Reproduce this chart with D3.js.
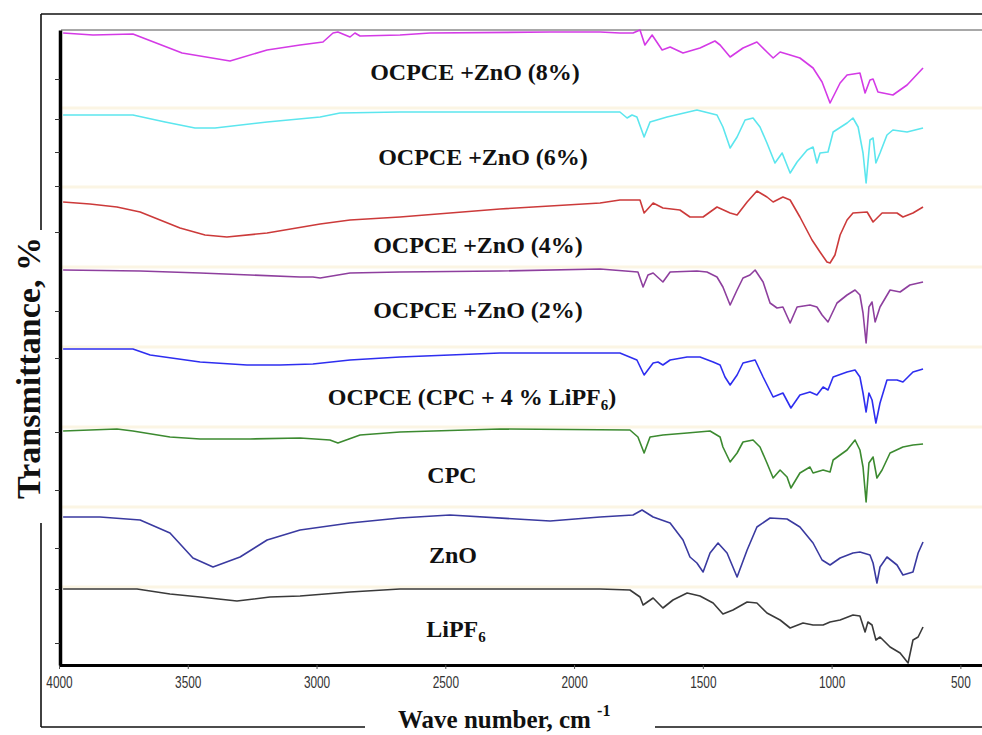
<!DOCTYPE html>
<html><head><meta charset="utf-8">
<script src="https://cdn.jsdelivr.net/npm/d3@7"></script>
<style>
html,body{margin:0;padding:0;background:#fff;}
svg{display:block;}
</style></head>
<body>
<svg id="chart" width="982" height="735"></svg>
<script>
// ---------- data ----------
const wavenumberTicks = [4000, 3500, 3000, 2500, 2000, 1500, 1000, 500];
const transmittanceTicks = [117.2, 109.2, 102.6, 95.8, 86.6, 70.8, 61.4, 46.6, 35, 23.4, 15.2, 4.4];
const separatorLevels = [111.4, 95.6, 79.6, 63.6, 47.6, 31.6, 15.6];

const seriesNames = ["OCPCE +ZnO (8%)", "OCPCE +ZnO (6%)", "OCPCE +ZnO (4%)", "OCPCE +ZnO (2%)",
  "OCPCE (CPC + 4 % LiPF6)", "CPC", "ZnO", "LiPF6"];
const seriesColors = ["#d43ae6", "#5ce6ee", "#cc3a3a", "#8e3f9e", "#2e2ef0", "#3c8a30", "#3a3aa0", "#3a3a3a"];

const ocpceZnO8 = [[3984,126.4],[3868,126],[3713,126.2],[3522,122.4],[3336,120.8],[3192,123],[3064,124],[2975,124.6],
  [2936,126.4],[2917,126.6],[2870,125.6],[2851,126.4],[2831,125.8],[2676,126],[2559,126.4],[2093,126.6],[1899,126.6],
  [1822,126.4],[1771,126.4],[1744,127],[1725,124],[1697,126],[1658,123],[1627,123.6],[1577,122.4],[1511,123.4],
  [1453,124.8],[1433,124],[1394,121.6],[1344,123.4],[1290,124.6],[1251,122.6],[1227,121.4],[1200,122.6],[1161,122],
  [1123,121.4],[1072,119.4],[1037,116.6],[1006,112.4],[967,116.4],[940,118],[890,118.4],[870,114.4],[851,117],
  [839,117.2],[820,114.6],[762,114],[707,116],[645,119.4]];

const ocpceZnO6 = [[3984,110],[3713,110],[3588,108.6],[3472,107.4],[3394,107.4],[3192,108.6],[2986,109.6],[2909,110.4],
  [2676,110.6],[1899,110.6],[1822,110.6],[1794,109.4],[1775,110],[1756,109.6],[1728,105.6],[1705,108.6],[1639,109.6],
  [1523,111],[1445,110],[1422,107.6],[1394,103.4],[1367,105.6],[1336,109],[1305,109.4],[1278,107.6],[1251,104.4],
  [1220,100.4],[1192,102.4],[1161,98.4],[1134,100.6],[1095,103],[1072,103.6],[1057,100.4],[1045,102.4],[1014,102.6],
  [994,106.6],[940,108.4],[917,109.4],[897,107.6],[878,102.4],[866,96.4],[851,105],[839,105.4],[828,100.4],[812,102.4],
  [785,106],[762,107],[707,106.6],[645,107.4]];

const ocpceZnO4 = [[3984,92.6],[3880,92.2],[3775,91.6],[3685,90.6],[3530,87.4],[3433,86],[3348,85.6],[3192,86.4],
  [2986,88.2],[2870,89],[2676,89.6],[2288,91.2],[1899,92.4],[1822,93],[1744,93],[1728,90.4],[1693,92.4],[1655,91.4],
  [1589,91],[1550,89.6],[1499,89.6],[1445,91.6],[1394,90.4],[1367,90],[1328,92.6],[1290,94.8],[1251,93.6],[1227,92.6],
  [1189,93.6],[1161,93],[1123,89.6],[1076,85],[1045,82.6],[1018,80.6],[1006,80.4],[987,82],[967,86],[940,89],
  [917,90.4],[862,90.6],[839,88.6],[804,90.4],[746,90.4],[723,89.6],[684,90.4],[645,91.6]];

const ocpceZnO2 = [[3984,79],[3685,78.8],[3452,78.4],[3258,78],[3064,77.6],[3014,77.6],[2986,77.4],[2870,78.4],
  [2676,78.6],[2288,78.8],[1899,79.2],[1752,78.6],[1732,75.6],[1713,78],[1693,78.4],[1655,76.6],[1627,78.6],[1523,78.8],
  [1484,78.6],[1445,77.6],[1422,75.6],[1394,72],[1367,75],[1344,77.4],[1317,78],[1297,79],[1266,76.6],[1239,72.4],
  [1212,71.4],[1189,71.6],[1161,68.4],[1134,71.6],[1084,72],[1057,71.6],[1037,70],[1014,68.6],[979,72.4],[940,74],
  [909,75],[890,74],[878,70.4],[866,64.4],[855,71.6],[843,72.6],[831,68.6],[812,71.6],[773,75],[734,74.6],[696,76],
  [645,76.6]];

const ocpce = [[3984,63.2],[3713,63.2],[3646,62],[3452,60.6],[3270,60],[3142,60],[3014,60.2],[2870,61],[2676,61.6],
  [2482,62],[2288,62.4],[1822,62.4],[1756,61],[1728,58],[1693,60.4],[1674,60.6],[1655,60],[1627,61],[1561,61.6],
  [1511,61.6],[1460,60.6],[1433,60],[1414,57.6],[1394,56],[1367,58],[1344,60.4],[1297,61],[1266,57.6],[1227,53.6],
  [1189,54.4],[1158,51.4],[1123,54],[1084,54.6],[1057,54],[1033,55.6],[1014,55],[994,57.6],[940,58.6],[909,59],
  [890,57.6],[878,54.4],[866,50.6],[855,54.4],[843,53],[828,48.4],[812,52.4],[785,57],[746,57],[723,56.6],[684,58.6],
  [645,59.2]];

const cpc = [[3984,46.8],[3775,47.2],[3713,46.8],[3569,45.6],[3452,45.2],[3258,45.2],[3064,45.4],[2948,45],[2917,44.4],
  [2831,46],[2676,46.6],[2288,47.2],[1783,47],[1752,45.6],[1728,42.4],[1705,45.6],[1655,46],[1561,46.4],[1472,46.8],
  [1433,45.6],[1422,43.6],[1394,40.6],[1367,42.4],[1344,44.6],[1305,45],[1278,43.6],[1251,40.4],[1227,37.4],[1200,39],
  [1173,37.6],[1158,35.4],[1123,38.4],[1084,39.6],[1072,38.4],[1033,39],[1006,38.6],[994,41],[940,43],[909,45],
  [890,43],[878,39.6],[866,32.6],[855,40.4],[839,41.6],[824,37.4],[804,39],[773,42.4],[723,43.6],[684,44],[645,44.2]];

const zno = [[3984,29.6],[3841,29.6],[3685,29],[3569,26.4],[3480,21.4],[3402,19.6],[3297,21.6],[3192,25],[3064,27],
  [2870,28.4],[2676,29.4],[2482,30],[2093,28.8],[1899,29.6],[1771,30],[1736,31],[1693,29.6],[1627,28.4],[1577,25],
  [1550,21.6],[1523,20.4],[1499,18.6],[1472,22.4],[1441,24.4],[1406,22.4],[1367,17.6],[1328,23],[1290,27.6],
  [1239,29.4],[1173,29.2],[1123,27.6],[1072,24.4],[1037,21],[1006,20],[967,21.4],[917,22.4],[890,22.6],[851,22],
  [839,20.4],[824,16.4],[812,19.6],[785,21.6],[746,20],[723,18],[684,18.6],[664,22.4],[645,24.6]];

const lipf6 = [[3984,15.2],[3697,15.2],[3569,14.2],[3452,13.6],[3309,12.8],[3181,13.6],[3064,13.8],[2870,14.6],
  [2676,15.2],[1899,15.2],[1783,15],[1744,13.6],[1732,12],[1693,13.4],[1655,11.4],[1616,13],[1561,14.4],[1511,13.8],
  [1460,12.4],[1422,10.2],[1383,11],[1328,12.6],[1290,12.4],[1251,10.4],[1200,9],[1161,7.4],[1111,8.4],[1072,8],
  [1033,8],[1006,8.6],[967,9],[917,10],[890,9.8],[870,6.6],[859,8.6],[843,8],[828,5],[812,5.6],[773,3.6],[734,2.4],
  [703,0.4],[684,5],[664,5.6],[645,7.6]];

const seriesData = [ocpceZnO8, ocpceZnO6, ocpceZnO4, ocpceZnO2, ocpce, cpc, zno, lipf6];

// ---------- layout ----------
const svg = d3.select("#chart");
const x = d3.scaleLinear().domain([4000, 416]).range([59, 982]);
const y = d3.scaleLinear().domain([0, 127]).range([665, 30]);
const serif = "'Liberation Serif','Times New Roman',serif";

// outer frame
const frame = svg.append("g").attr("stroke", "#111").attr("stroke-width", 1.6).attr("fill", "none");
frame.append("line").attr("x1", 41).attr("x2", 982).attr("y1", 14).attr("y2", 14);
frame.append("line").attr("x1", 41).attr("x2", 41).attr("y1", 14).attr("y2", 230);
frame.append("line").attr("x1", 41).attr("x2", 41).attr("y1", 523).attr("y2", 727);
frame.append("line").attr("x1", 41).attr("x2", 365).attr("y1", 727).attr("y2", 727);
frame.append("line").attr("x1", 655).attr("x2", 982).attr("y1", 727).attr("y2", 727);

// separators
svg.append("g").selectAll("line").data(separatorLevels).join("line")
  .attr("x1", 62).attr("x2", 982)
  .attr("y1", d => y(d)).attr("y2", d => y(d))
  .attr("stroke", "#fbf5e4").attr("stroke-width", 3);

// top grey border of plot
svg.append("line").attr("x1", 61).attr("x2", 982).attr("y1", 30).attr("y2", 30)
  .attr("stroke", "#a8a8a8").attr("stroke-width", 2);

// lines
const line = d3.line().x(d => x(d[0])).y(d => y(d[1])).curve(d3.curveLinear);
svg.append("g").selectAll("path").data(seriesData).join("path")
  .attr("d", line)
  .attr("fill", "none")
  .attr("stroke", (d, i) => seriesColors[i])
  .attr("stroke-width", 1.6)
  .attr("stroke-linejoin", "round");

// axes
const xAxis = svg.append("g").attr("transform", "translate(0,665)")
  .call(d3.axisBottom(x).tickValues(wavenumberTicks).tickSize(4).tickSizeOuter(0).tickFormat(d3.format("d")));
xAxis.select(".domain").attr("stroke", "#000").attr("stroke-width", 3);
xAxis.selectAll(".tick line").attr("stroke", "#555").attr("stroke-width", 1);
xAxis.selectAll(".tick text")
  .attr("y", 0).attr("dy", 0).attr("x", 0)
  .attr("transform", "translate(0,23) scale(0.74,1)")
  .attr("font-family", "'Liberation Sans',Arial,sans-serif")
  .attr("font-size", 16).attr("fill", "#333");

const yAxis = svg.append("g").attr("transform", "translate(60,0)")
  .call(d3.axisLeft(y).tickValues(transmittanceTicks).tickSize(5).tickSizeOuter(0).tickFormat(""));
yAxis.select(".domain").attr("stroke", "#000").attr("stroke-width", 3.5);
yAxis.selectAll(".tick line").attr("stroke", "#333").attr("stroke-width", 1);

// series labels
const labelLayout = [[475, 80], [483, 165], [478, 253], [478, 318], [472, 405], [452, 483], [453, 563], [456, 637]];
const lab = svg.append("g").attr("font-family", serif).attr("font-weight", "bold").attr("font-size", 24).attr("fill", "#111");
seriesNames.forEach((name, i) => {
  const t = lab.append("text").attr("x", labelLayout[i][0]).attr("y", labelLayout[i][1]).attr("text-anchor", "middle");
  const m = name.match(/^(.*LiPF)6(\)?)$/);
  if (m) {
    t.append("tspan").text(m[1]);
    t.append("tspan").text("6").attr("font-size", 15).attr("dy", 5);
    if (m[2]) t.append("tspan").text(m[2]).attr("dy", -5);
  } else {
    t.text(name);
  }
});

// axis titles
svg.append("text").attr("transform", "translate(40,368) rotate(-90)")
  .attr("text-anchor", "middle").attr("font-family", serif).attr("font-weight", "bold")
  .attr("font-size", 34).attr("fill", "#111").text("Transmittance, %");

const xt = svg.append("text").attr("x", 398).attr("y", 728)
  .attr("font-family", serif).attr("font-weight", "bold").attr("font-size", 25).attr("fill", "#111");
xt.append("tspan").text("Wave number, cm ");
xt.append("tspan").text("-1").attr("font-size", 16).attr("dy", -12);
</script>
</body></html>
